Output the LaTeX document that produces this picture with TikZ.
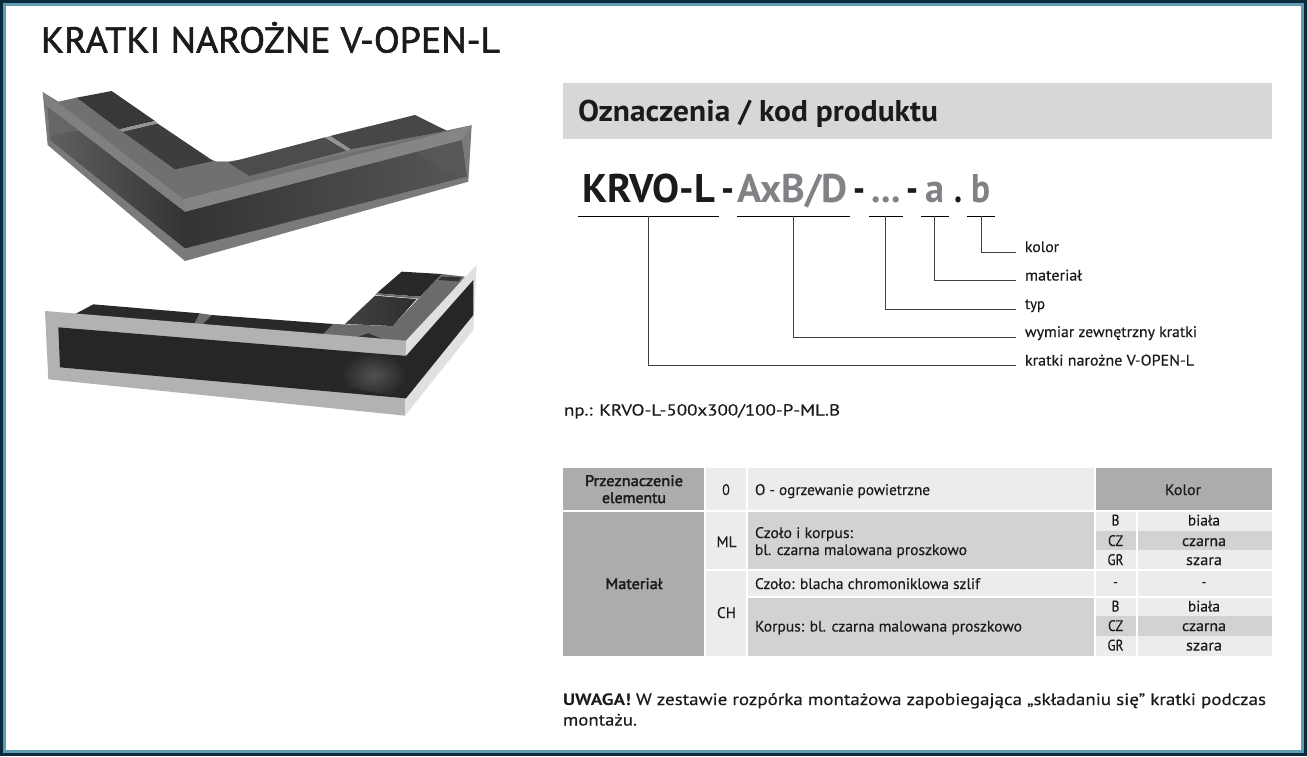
\documentclass[tikz,border=0pt]{standalone}
\usepackage{fontspec}
\usepackage{graphicx}
\setmainfont{PT Sans}
\newfontfamily\bodyfont{PT Sans}[FakeBold=0.3]
\newfontfamily\medfont{PT Sans}[FakeBold=2.2]
\newfontfamily\titlefont{PT Sans}[FakeBold=1.6]
\definecolor{inkdark}{HTML}{1C1A1B}
\definecolor{frameNavy}{HTML}{0B2A3B}
\definecolor{frameTeal}{HTML}{5F9DB0}
\definecolor{headGray}{HTML}{D6D7D9}
\definecolor{cellDark}{HTML}{ABACAE}
\definecolor{cellMid}{HTML}{D1D2D4}
\definecolor{cellLight}{HTML}{ECECED}
\definecolor{codeGray}{HTML}{818285}
\newcommand{\fitw}[2]{\resizebox{#1pt}{\height}{#2}}
\tikzset{
  txt/.style={anchor=base west, inner sep=0pt, outer sep=0pt, text=inkdark},
  ctxt/.style={anchor=base, inner sep=0pt, outer sep=0pt, text=inkdark},
  small/.style={font=\fontsize{15.3}{18}\bodyfont},
  smallbold/.style={font=\fontsize{15.3}{18}\medfont},
  code/.style={font=\fontsize{40}{43}\selectfont\bfseries},
  notefont/.style={font=\fontsize{16.5}{19}\bodyfont},
  leader/.style={draw=black!75, line width=0.9pt},
  rule/.style={draw=black, line width=0.9pt}
}
\begin{document}
\begin{tikzpicture}[x=1pt, y=-1pt]
  \useasboundingbox (0,0) rectangle (1307,756);
  % Frame
  \fill[frameNavy] (0,0) rectangle (1307,756);
  \fill[frameTeal] (3,3) rectangle (1304,753);
  \fill[white] (6,6) rectangle (1301,750);

  % Title
  \node[txt, font=\fontsize{36}{40}\titlefont] (title) at (41,52.5) {\fitw{459}{KRATKI NAROŻNE V-OPEN-L}};

  % Upper grate
  \begin{scope}[shift={(0,60)}, scale=1/3]
    \fill[black!52] (128,96) -- (143,255) -- (555,603) -- (1405,365) -- (1415,196) -- (1340,212) -- (680,305) -- (650,305) -- (175,125) -- cycle;
    \shade[left color=black!62, right color=black!80] (143,140) -- (555,455) -- (555,565) -- (150,240) -- cycle;
    \shade[left color=black!80, right color=black!66] (555,455) -- (1385,240) -- (1400,350) -- (555,565) -- cycle;
    \fill[black!60] (143,140) -- (235,212) -- (160,225) -- (150,240) -- cycle;
    \fill[black!66] (1250,275) -- (1385,240) -- (1400,350) -- (1325,330) -- cycle;
    \fill[black!56] (175,125) -- (230,113) -- (525,328) -- (640,303) -- (650,305) -- (680,305) -- (748,348) -- (1340,212) -- (1415,196) -- (550,418) -- cycle;
    \fill[black!50] (128,96) -- (550,418) -- (555,455) -- (143,140) -- cycle;
    \fill[black!48] (550,418) -- (1415,196) -- (1385,240) -- (555,455) -- cycle;
    \fill[black!78] (230,113) -- (335,93) -- (465,183) -- (358,208) -- cycle;
    \fill[black!76] (368,215) -- (472,190) -- (640,303) -- (525,328) -- cycle;
    \fill[black!70] (685,308) -- (975,232) -- (1040,272) -- (748,348) -- cycle;
    \fill[black!72] (990,228) -- (1245,165) -- (1340,212) -- (1052,268) -- cycle;
    \fill[black!42] (358,208) -- (465,183) -- (474,190) -- (368,215) -- cycle;
    \fill[black!42] (975,232) -- (990,228) -- (1052,268) -- (1040,272) -- cycle;
  \end{scope}

  % Lower grate
  \begin{scope}[shift={(0,250)}, scale=1/3]
    \fill[black!84] (220,195) -- (280,163) -- (600,190) -- (580,228) -- cycle;
    \fill[black!84] (600,230) -- (635,195) -- (1000,222) -- (960,262) -- cycle;
    \fill[black!58] (580,228) -- (600,190) -- (635,195) -- (600,230) -- cycle;
    \fill[black!58] (960,262) -- (1000,222) -- (1178,228) -- (1325,72) -- (1395,80) -- (1218,280) -- cycle;
    \fill[black!84] (1130,130) -- (1205,65) -- (1325,72) -- (1260,140) -- cycle;
    \shade[left color=black!74, right color=black!82] (1035,222) -- (1125,137) -- (1250,147) -- (1178,228) -- cycle;
    \fill[black!58] (1125,135) -- (1130,130) -- (1260,140) -- (1255,146) -- cycle;
    \fill[black!80] (1315,90) -- (1325,80) -- (1385,82) -- (1375,94) -- cycle;
    \fill[black!80] (1075,260) -- (1105,250) -- (1150,268) -- cycle;
    \fill[black!30] (135,183) -- (145,388) -- (1215,497) -- (1218,272) -- cycle;
    \fill[black!12] (1218,272) -- (1430,45) -- (1420,240) -- (1215,497) -- cycle;
    \fill[black!85] (175,232) -- (1218,318) -- (1420,90) -- (1420,195) -- (1218,445) -- (180,352) -- cycle;
    \shade[inner color=black!68, outer color=black!85] (1022,306) -- (1218,318) -- (1218,445) -- (1022,408) -- cycle;
  \end{scope}

  % Heading band
  \fill[headGray] (563,83) rectangle (1272,139);
  \node[txt, font=\fontsize{30}{34}\selectfont\bfseries] (heading) at (578,121.5) {\fitw{360}{Oznaczenia / kod produktu}};

  % Product code
  \node[txt, code] (krvo) at (582,202.5) {\fitw{133}{KRVO-L}};
  \node[txt, code] (dashA) at (721,202.5) {\fitw{13}{-}};
  \node[txt, code, text=codeGray] (size) at (737.5,202.5) {\fitw{110}{AxB/D}};
  \node[txt, code] (dashB) at (853,202.5) {\fitw{12}{-}};
  \node[txt, code, text=codeGray] (dots) at (871.5,202.5) {\fitw{29}{...}};
  \node[txt, code] (dashC) at (906.5,202.5) {\fitw{12}{-}};
  \node[txt, code, text=codeGray] (mat) at (925,202.5) {\fitw{19}{a}};
  \node[txt, code] (dot) at (954,202.5) {\fitw{8}{.}};
  \node[txt, code, text=codeGray] (col) at (971.5,202.5) {\fitw{19}{b}};

  % Underlines and leaders
  \foreach \ua/\ub/\tap/\yy/\wide/\name/\lab in {
      578/719/648/365.5/169/krvoL/kratki narożne V-OPEN-L,
      737/850/793/337/172/sizeL/wymiar zewnętrzny kratki,
      869/903/885.5/309/20/typL/typ,
      921/949/934.5/280.5/57/matL/materiał,
      967/995/981/252/34/colL/kolor}{
    \coordinate (\name A) at (\ua,216);
    \coordinate (\name B) at (\ub,216);
    \coordinate (\name T) at (\tap,216);
    \coordinate (\name E) at (1016,\yy);
    \draw[rule] (\name A) -- (\name B);
    \draw[leader] (\name T) |- (\name E);
    \node[txt, small] (\name) at (1025,\yy) {\fitw{\wide}{\lab}};
  }

  % Example
  \node[txt, font=\fontsize{16}{18}\bodyfont] (example) at (564,415.5) {\fitw{276}{np.: KRVO-L-500x300/100-P-ML.B}};

  % Table cells
  \foreach \xa/\ya/\xb/\yb/\tone in {
      563/467.5/704/510/cellDark, 706/467.5/746/510/cellLight, 748/467.5/1094/510/cellLight, 1095.5/467.5/1272/510/cellDark,
      563/512/704/655.5/cellDark, 706/512/746/569/cellLight, 706/571/746/655.5/cellLight,
      748/512/1094/569/cellMid, 748/571/1094/595.5/cellLight, 748/597.5/1094/655.5/cellMid,
      1095.5/512/1136/531/cellLight, 1137.5/512/1272/531/cellLight,
      1095.5/531/1136/550/cellMid, 1137.5/531/1272/550/cellMid,
      1095.5/550/1136/569/cellLight, 1137.5/550/1272/569/cellLight,
      1095.5/571/1136/595.5/cellLight, 1137.5/571/1272/595.5/cellLight,
      1095.5/597.5/1136/616/cellLight, 1137.5/597.5/1272/616/cellLight,
      1095.5/616/1136/636/cellMid, 1137.5/616/1272/636/cellMid,
      1095.5/636/1136/655.5/cellLight, 1137.5/636/1272/655.5/cellLight}
    \fill[\tone] (\xa,\ya) rectangle (\xb,\yb);

  % Table texts
  \node[ctxt, smallbold] (purposeA) at (634,486) {\fitw{98}{Przeznaczenie}};
  \node[ctxt, smallbold] (purposeB) at (634,503) {\fitw{64}{elementu}};
  \node[ctxt, smallbold] (material) at (634,589) {\fitw{57}{Materiał}};
  \foreach \x/\y/\wide/\name/\lab in {
      726/495/7.5/kindO/O, 726.5/547/20/kindML/ML, 726.5/618/19/kindCH/CH, 1183/495/36/kindKolor/Kolor,
      1115.5/525.5/8/rB/B, 1115.5/546/15/rCZ/CZ, 1115.5/565/16/rGR/GR,
      1115.5/611.5/8/sB/B, 1115.5/631/15/sCZ/CZ, 1115.5/650.5/16/sGR/GR,
      1204/525.5/32/tB/biała, 1204/546/44/tCZ/czarna, 1204/565/36/tGR/szara,
      1204/611.5/32/uB/biała, 1204/631/44/uCZ/czarna, 1204/650.5/36/uGR/szara,
      1115.5/587/5/rDash/-, 1204/587/5/tDash/-}
    \node[ctxt, small] (\name) at (\x,\y) {\fitw{\wide}{\lab}};
  \foreach \y/\wide/\name/\lab in {
      495/175/rowO/O - ogrzewanie powietrzne,
      538/98/rowMLa/Czoło i korpus:,
      555/212/rowMLb/bl. czarna malowana proszkowo,
      589/225/rowCHa/Czoło: blacha chromoniklowa szlif,
      631.5/267/rowCHb/Korpus: bl. czarna malowana proszkowo}
    \node[txt, small] (\name) at (755,\y) {\fitw{\wide}{\lab}};

  % Note
  \node[txt, font=\fontsize{16.5}{19}\selectfont\bfseries] (noteA) at (563,705) {\fitw{68}{UWAGA!}};
  \node[txt, notefont] (noteB) at (636,705) {\fitw{630}{W zestawie rozpórka montażowa zapobiegająca „składaniu się” kratki podczas}};
  \node[txt, notefont] (noteC) at (563,725.5) {\fitw{74}{montażu.}};
\end{tikzpicture}
\end{document}
